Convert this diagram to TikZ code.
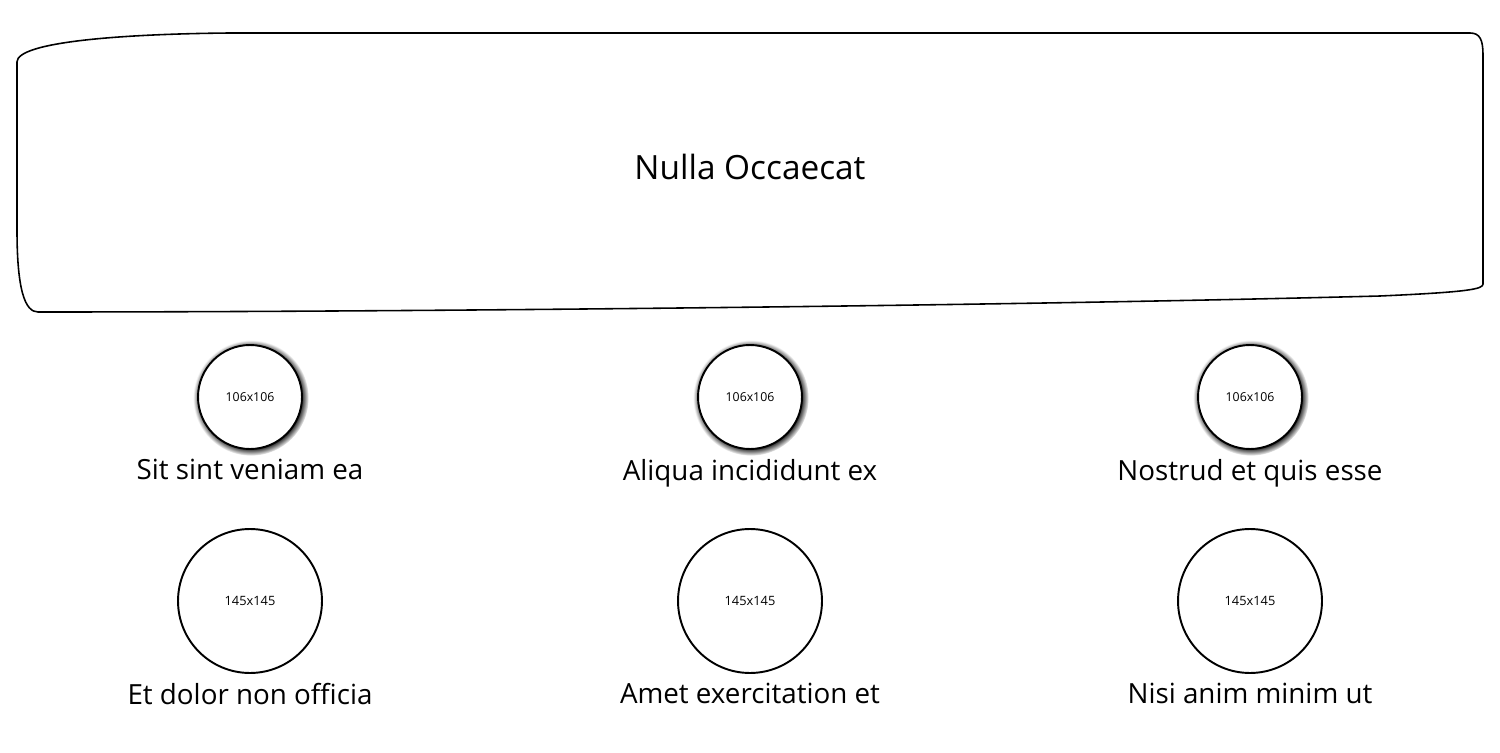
\documentclass[tikz,border=0pt]{standalone}
\usepackage{fontspec}
\setmainfont{Open Sans}
\usetikzlibrary{positioning, shadows, fadings}

\begin{document}
\begin{tikzpicture}[x=0.02cm,y=-0.02cm,node distance=0.13cm,
                    line width=1.1pt,
                    small icon/.style={circle,draw,fill=white,minimum size=2.08cm,inner sep=0pt,
                      general shadow={shadow scale=1.11,shadow xshift=0.5pt,shadow yshift=-0.5pt,
                        path fading=circle with fuzzy edge 15 percent,fill=black,opacity=1},
                      font=\fontsize{7}{8}\selectfont},
                    big icon/.style={circle,draw,fill=white,minimum size=2.88cm,inner sep=0pt,
                      font=\fontsize{7.3}{8}\selectfont},
                    caption/.style={inner sep=1pt,font=\fontsize{15.8}{18}\selectfont}]

  \useasboundingbox (0,0) rectangle (1500,753);

  % header box
  \draw[line width=0.9pt] (17,230) -- (17,62)
    .. controls (17,42) and (120,34) .. (230,33) -- (1470,33)
    .. controls (1480,33) and (1483,40) .. (1483,55) -- (1483,284)
    .. controls (1483,289) and (1470,292) .. (1380,296)
    .. controls (1000,306) and (400,312) .. (38,312)
    .. controls (25,312) and (17,290) .. (17,230);
  \node[font=\fontsize{19}{22}\selectfont] (title) at (750,167) {Nulla Occaecat};

  % row 1
  \node[small icon] (s1) at (250,397) {106x106};
  \node[small icon] (s2) at (750,397) {106x106};
  \node[small icon] (s3) at (1250,397) {106x106};
  \node[caption] (c1) [below=of s1] {Sit sint veniam ea};
  \node[caption] (c2) [below=of s2] {Aliqua incididunt ex};
  \node[caption] (c3) [below=of s3] {Nostrud et quis esse};

  % row 2
  \node[big icon] (b1) at (250,601) {145x145};
  \node[big icon] (b2) at (750,601) {145x145};
  \node[big icon] (b3) at (1250,601) {145x145};
  \node[caption] (d1) [below=of b1] {Et dolor non officia};
  \node[caption] (d2) [below=of b2] {Amet exercitation et};
  \node[caption] (d3) [below=of b3] {Nisi anim minim ut};
\end{tikzpicture}
\end{document}
